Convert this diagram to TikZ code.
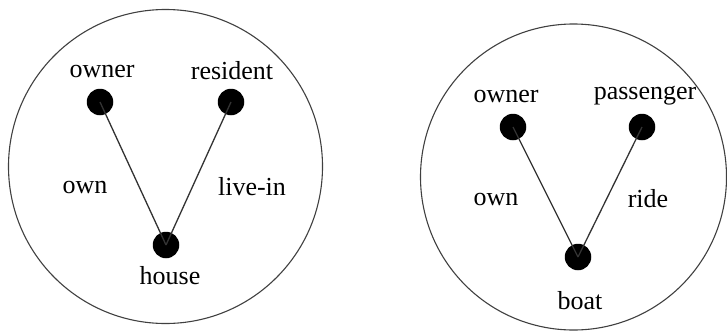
\documentclass[tikz,border=0pt]{standalone}
\usepackage{fontspec}
\setmainfont{Liberation Serif}
\begin{document}
\begin{tikzpicture}[x=1pt,y=-1pt,
  dot/.style={circle,fill=black,inner sep=0pt,minimum size=26.5pt},
  lbl/.style={font=\fontsize{26}{30}\selectfont,inner sep=0pt,anchor=center},
  ring/.style={draw=black!75,line width=1.1pt},
  edge/.style={draw=black!80,line width=1.3pt}]
\useasboundingbox (0,0) rectangle (727,335);
% left
\node[ring,circle,minimum size=314pt,inner sep=0pt] (c1) at (165.5,166.5) {};
\node[dot] (o1) at (100,102) {};
\node[dot] (r1) at (231,102) {};
\node[dot] (h1) at (166,245) {};
\draw[edge] (o1.center) -- (h1.center);
\draw[edge] (r1.center) -- (h1.center);
\node[lbl] (lo1) at (102,71) {owner};
\node[lbl] (lr1) at (232,71) {resident};
\node[lbl] (lw1) at (85,187) {own};
\node[lbl] (ll1) at (252,187) {live-in};
\node[lbl] (lh1) at (170,276) {house};
% right
\node[ring,circle,minimum size=306pt,inner sep=0pt] (c2) at (573.5,177) {};
\node[dot] (o2) at (513,127) {};
\node[dot] (p2) at (642,127) {};
\node[dot] (b2) at (578,257) {};
\draw[edge] (o2.center) -- (b2.center);
\draw[edge] (p2.center) -- (b2.center);
\node[lbl] (lo2) at (506,96) {owner};
\node[lbl] (lp2) at (645,96) {passenger};
\node[lbl] (lw2) at (496,199) {own};
\node[lbl] (lr2) at (648,199) {ride};
\node[lbl] (lb2) at (580,301) {boat};
\end{tikzpicture}
\end{document}
